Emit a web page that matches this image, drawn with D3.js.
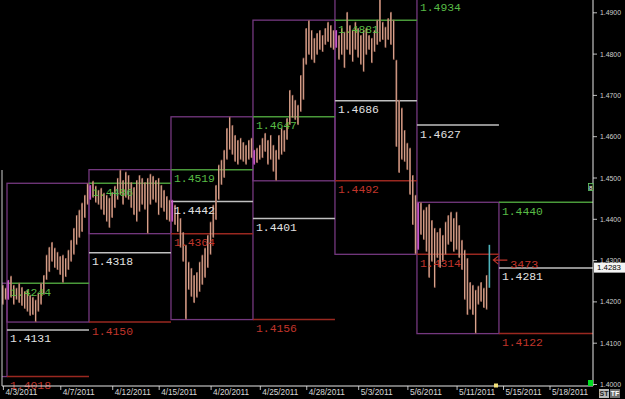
<!DOCTYPE html>
<html><head><meta charset="utf-8">
<script src="https://cdn.jsdelivr.net/npm/d3@7"></script>
<style>html,body{margin:0;padding:0;background:#000;overflow:hidden}svg{display:block}</style>
</head><body><svg id="c" width="625" height="399"></svg>
<script>
// ---- data ----
const barHigh = [
  1.4240,1.4233,
  1.4252,1.4262,1.4240,1.4233,1.4245,1.4235,1.4225,1.4228,1.4216,1.4211,1.4204,1.4221,1.4245,1.4264,1.4313,1.4332,1.4344,1.4330,1.4320,1.4310,1.4313,1.4305,1.4325,1.4349,1.4378,1.4409,1.4422,1.4439,1.4458,1.4486,
  1.4482,1.4492,1.4480,1.4470,1.4475,1.4463,1.4458,1.4451,1.4465,1.4480,1.4499,1.4519,1.4494,1.4514,1.4506,1.4489,1.4477,1.4494,1.4506,1.4499,1.4489,1.4499,1.4509,1.4504,1.4494,1.4499,1.4482,1.4470,1.4455,1.4446,
  1.4446,1.4434,1.4417,1.4402,1.4368,1.4337,1.4296,1.4281,1.4264,1.4271,1.4296,1.4313,1.4330,1.4361,1.4393,1.4434,1.4482,1.4531,1.4543,1.4567,1.4620,1.4647,1.4627,1.4603,1.4591,1.4596,1.4586,1.4579,1.4591,1.4596,
  1.4567,1.4572,1.4579,1.4596,1.4608,1.4591,1.4603,1.4579,1.4567,1.4603,1.4620,1.4615,1.4644,1.4712,1.4700,1.4688,1.4676,1.4748,1.4790,1.4862,1.4881,1.4857,1.4838,1.4850,1.4857,1.4845,1.4862,1.4877,1.4869,1.4857,
  1.4857,1.4845,1.4862,1.4853,1.4901,1.4869,1.4857,1.4877,1.4862,1.4845,1.4857,1.4862,1.4845,1.4838,1.4857,1.4882,1.4934,1.4877,1.4865,1.4886,1.4901,1.4882,1.4785,1.4688,1.4669,1.4615,1.4584,1.4572,1.4506,1.4458,
  1.4440,1.4440,1.4422,1.4429,1.4436,1.4397,1.4378,1.4368,1.4378,1.4361,1.4393,1.4409,1.4417,1.4402,1.4417,1.4385,1.4349,1.4325,1.4305,1.4247,1.4240,1.4228,1.4238,1.4247,1.4233,1.4264,1.4337
];
const barLow = [
  1.4192,1.4204,
  1.4204,1.4209,1.4192,1.4204,1.4196,1.4189,1.4182,1.4175,1.4165,1.4167,1.4150,1.4175,1.4192,1.4216,1.4252,1.4271,1.4296,1.4281,1.4276,1.4264,1.4245,1.4259,1.4276,1.4296,1.4313,1.4337,1.4354,1.4368,1.4402,1.4434,
  1.4446,1.4451,1.4439,1.4434,1.4422,1.4409,1.4393,1.4378,1.4402,1.4426,1.4446,1.4458,1.4434,1.4451,1.4446,1.4426,1.4409,1.4393,1.4417,1.4434,1.4422,1.4364,1.4434,1.4446,1.4439,1.4409,1.4426,1.4417,1.4397,1.4393,
  1.4393,1.4385,1.4368,1.4330,1.4296,1.4156,1.4228,1.4211,1.4196,1.4209,1.4223,1.4240,1.4257,1.4281,1.4313,1.4354,1.4397,1.4446,1.4482,1.4499,1.4543,1.4567,1.4555,1.4538,1.4531,1.4543,1.4538,1.4531,1.4543,1.4547,
  1.4531,1.4535,1.4543,1.4547,1.4562,1.4531,1.4543,1.4514,1.4492,1.4543,1.4555,1.4562,1.4591,1.4627,1.4644,1.4639,1.4627,1.4659,1.4688,1.4773,1.4797,1.4785,1.4777,1.4797,1.4809,1.4804,1.4821,1.4828,1.4814,1.4809,
  1.4814,1.4785,1.4797,1.4765,1.4809,1.4797,1.4780,1.4809,1.4790,1.4773,1.4756,1.4797,1.4809,1.4777,1.4804,1.4821,1.4828,1.4833,1.4814,1.4833,1.4821,1.4785,1.4574,1.4511,1.4543,1.4538,1.4518,1.4458,1.4385,1.4314,
  1.4325,1.4361,1.4349,1.4320,1.4257,1.4296,1.4233,1.4305,1.4281,1.4296,1.4313,1.4337,1.4344,1.4320,1.4325,1.4305,1.4276,1.4204,1.4167,1.4180,1.4167,1.4122,1.4192,1.4199,1.4184,1.4180,1.4233
];
const weekOpenBars = [2, 32, 62, 92, 122, 152];
const weekBounds = [-1.06, 1.5, 31.5, 61.5, 91.5, 121.5, 151.5, 181.5];
const weekHigh = [1.4244, 1.4486, 1.4519, 1.4647, 1.4881, 1.4934, 1.4440];
const weekLow  = [1.4018, 1.4150, 1.4364, 1.4156, 1.4492, 1.4314, 1.4122];
const weekMid  = [1.4131, 1.4318, 1.4442, 1.4401, 1.4686, 1.4627, 1.4281];
const dateLabels = ["4/3/2011","4/7/2011","4/12/2011","4/15/2011","4/20/2011","4/25/2011","4/28/2011","5/3/2011","5/6/2011","5/11/2011","5/15/2011","5/18/2011"];
const dateIdx = [0, 21, 40, 57, 76, 94, 111, 130, 148, 166, 183, 200];
const priceTicks = [1.40, 1.41, 1.42, 1.43, 1.44, 1.45, 1.46, 1.47, 1.48, 1.49];
const lastPrice = 1.4283;
const signalPrice = 1.4300;
const signalText = "3473";

// ---- layout ----
const W = 625, H = 399;
const axisX = 593, axisY = 386, leftX = 2;
const svg = d3.select("#c");
svg.append("rect").attr("width", W).attr("height", H).attr("fill", "#000");

const x = d3.scaleLinear().domain([0, 200]).range([2.9, 549.5]);
const y = d3.scaleLinear().domain([1.40, 1.49]).range([384, 12.3]);

const PURPLE = "#74387f", GREEN = "#4a9a3a", GREENT = "#58bb46", RED = "#9a2820", REDT = "#c0352b", WHITEL = "#c0c0c0", WHITET = "#e2e2e2";
const MONO = "'Liberation Mono', 'DejaVu Sans Mono', monospace";
const SANS = "'Liberation Sans', Arial, sans-serif";

svg.append("clipPath").attr("id", "plot").append("rect")
  .attr("x", leftX).attr("y", 0).attr("width", axisX - leftX).attr("height", axisY);

const g = svg.append("g").attr("clip-path", "url(#plot)");

// week boxes
const weeks = d3.range(weekHigh.length);
g.selectAll("rect.box").data(weeks).join("rect").attr("class", "box")
  .attr("x", i => x(weekBounds[i]))
  .attr("y", i => y(weekHigh[i]))
  .attr("width", i => x(weekBounds[i + 1]) - x(weekBounds[i]))
  .attr("height", i => y(weekLow[i]) - y(weekHigh[i]))
  .attr("fill", "none").attr("stroke", PURPLE).attr("stroke-width", 1.3);

// projected levels into the following week
const endX = i => (i + 2 < weekBounds.length ? x(weekBounds[i + 2]) : axisX);
const levels = [];
weeks.forEach(i => {
  levels.push({w: i, v: weekHigh[i], c: GREEN, t: GREENT});
  levels.push({w: i, v: weekMid[i], c: WHITEL, t: WHITET});
  levels.push({w: i, v: weekLow[i], c: RED, t: REDT});
});
g.selectAll("line.lvl").data(levels).join("line").attr("class", "lvl")
  .attr("x1", d => x(weekBounds[d.w + 1])).attr("x2", d => endX(d.w))
  .attr("y1", d => y(d.v)).attr("y2", d => y(d.v))
  .attr("stroke", d => d.c).attr("stroke-width", 1.5);

svg.selectAll("text.lvl").data(levels).join("text").attr("class", "lvl")
  .attr("x", d => x(weekBounds[d.w + 1]) + 3)
  .attr("y", d => y(d.v) + 12.5)
  .attr("fill", d => d.t)
  .attr("font-family", MONO).attr("font-size", 11.5)
  .attr("textLength", 41).attr("lengthAdjust", "spacingAndGlyphs")
  .text(d => d.v.toFixed(4));

// bars
const bars = d3.range(barHigh.length);
const last = barHigh.length - 1;
g.selectAll("rect.bar").data(bars).join("rect").attr("class", "bar")
  .attr("x", i => x(i) - 0.8).attr("width", 1.6)
  .attr("y", i => y(barHigh[i]))
  .attr("height", i => Math.max(1, y(barLow[i]) - y(barHigh[i])))
  .attr("fill", i => i === last ? "#4fb3bb" : (weekOpenBars.includes(i) ? "#b040b0" : "#9c6656"));
g.selectAll("line.hl").data(bars.filter(i => i !== last)).join("line").attr("class", "hl")
  .attr("x1", i => x(i) - 0.2).attr("x2", i => x(i) - 0.2)
  .attr("y1", i => y(barHigh[i]) + 1).attr("y2", i => y(barLow[i]) - 1)
  .attr("stroke", i => weekOpenBars.includes(i) ? "#e070e0" : "#e8b49c").attr("stroke-width", 0.8);

// signal arrow
const sy = y(signalPrice);
const ax0 = x(last) + 4;
svg.append("path")
  .attr("d", `M${ax0 + 14},${sy} L${ax0},${sy} M${ax0 + 5},${sy - 4} L${ax0},${sy} L${ax0 + 5},${sy + 4}`)
  .attr("stroke", REDT).attr("stroke-width", 1.2).attr("fill", "none");
svg.append("text").attr("x", ax0 + 17).attr("y", sy + 7.5).attr("fill", REDT)
  .attr("font-family", MONO).attr("font-size", 10.5).attr("textLength", 28).attr("lengthAdjust", "spacingAndGlyphs").text(signalText);

// axes
const yAxis = d3.axisRight(y).tickValues(priceTicks).tickSize(4).tickPadding(3).tickFormat(d3.format(".4f"));
const ya = svg.append("g").attr("transform", `translate(${axisX},0)`).call(yAxis);
ya.select(".domain").remove();
ya.selectAll(".tick line").attr("stroke", "#bbb");
ya.selectAll(".tick text").attr("fill", "#d0d0d0").attr("font-family", SANS).attr("font-size", 8)
  .attr("textLength", 21).attr("lengthAdjust", "spacingAndGlyphs");

const xAxis = d3.axisBottom(x).tickValues(dateIdx).tickSize(4).tickFormat((d, i) => dateLabels[i]);
const xa = svg.append("g").attr("transform", `translate(0,${axisY})`).call(xAxis);
xa.select(".domain").remove();
xa.selectAll(".tick line").attr("stroke", "#bbb");
xa.selectAll(".tick text").attr("fill", "#d8d8d8").attr("font-family", SANS).attr("font-size", 8.5)
  .attr("text-anchor", "start").attr("x", 2).attr("y", 3).attr("dy", "0.71em")
  .attr("textLength", (d, i) => dateLabels[i].length > 8 ? 36 : 32).attr("lengthAdjust", "spacingAndGlyphs");

// frame lines
svg.append("line").attr("x1", axisX).attr("x2", axisX).attr("y1", 0).attr("y2", axisY).attr("stroke", "#e8e8e8").attr("stroke-width", 1);
svg.append("line").attr("x1", leftX).attr("x2", axisX).attr("y1", axisY).attr("y2", axisY).attr("stroke", "#e8e8e8").attr("stroke-width", 1);
svg.append("line").attr("x1", leftX).attr("x2", leftX).attr("y1", 170).attr("y2", axisY).attr("stroke", "#cfcfcf").attr("stroke-width", 1);

// current price tag
const py = y(lastPrice);
svg.append("rect").attr("x", axisX + 1).attr("y", py - 4.5).attr("width", 31).attr("height", 10).attr("fill", "#f4f4f4");
svg.append("text").attr("x", axisX + 4).attr("y", py + 3.2).attr("fill", "#000").attr("font-family", SANS)
  .attr("font-size", 7.5).attr("textLength", 24).attr("lengthAdjust", "spacingAndGlyphs").text(lastPrice.toFixed(4));

// small widgets
svg.append("rect").attr("x", 588).attr("y", 380).attr("width", 5).attr("height", 6).attr("fill", "#00dd22");
svg.append("rect").attr("x", 588.5).attr("y", 183.5).attr("width", 4.5).attr("height", 7).attr("fill", "#111").attr("stroke", "#6c6").attr("stroke-width", 0.8);
svg.append("text").attr("x", 590.7).attr("y", 189.5).attr("text-anchor", "middle").attr("fill", "#fff").attr("font-family", SANS).attr("font-size", 6).text("8");
svg.append("rect").attr("x", 494).attr("y", 383.5).attr("width", 4).attr("height", 4).attr("fill", "#f4e27a");
svg.append("rect").attr("x", 599).attr("y", 389).attr("width", 10).attr("height", 9).attr("fill", "#b8b8b8");
svg.append("text").attr("x", 604).attr("y", 396).attr("text-anchor", "middle").attr("fill", "#222").attr("font-family", SANS).attr("font-size", 7).attr("font-weight", "bold").text("ST");
svg.append("rect").attr("x", 610).attr("y", 389).attr("width", 10).attr("height", 9).attr("fill", "#707070");
svg.append("text").attr("x", 615).attr("y", 396).attr("text-anchor", "middle").attr("fill", "#fff").attr("font-family", SANS).attr("font-size", 7).attr("font-weight", "bold").text("TF");
</script></body></html>
